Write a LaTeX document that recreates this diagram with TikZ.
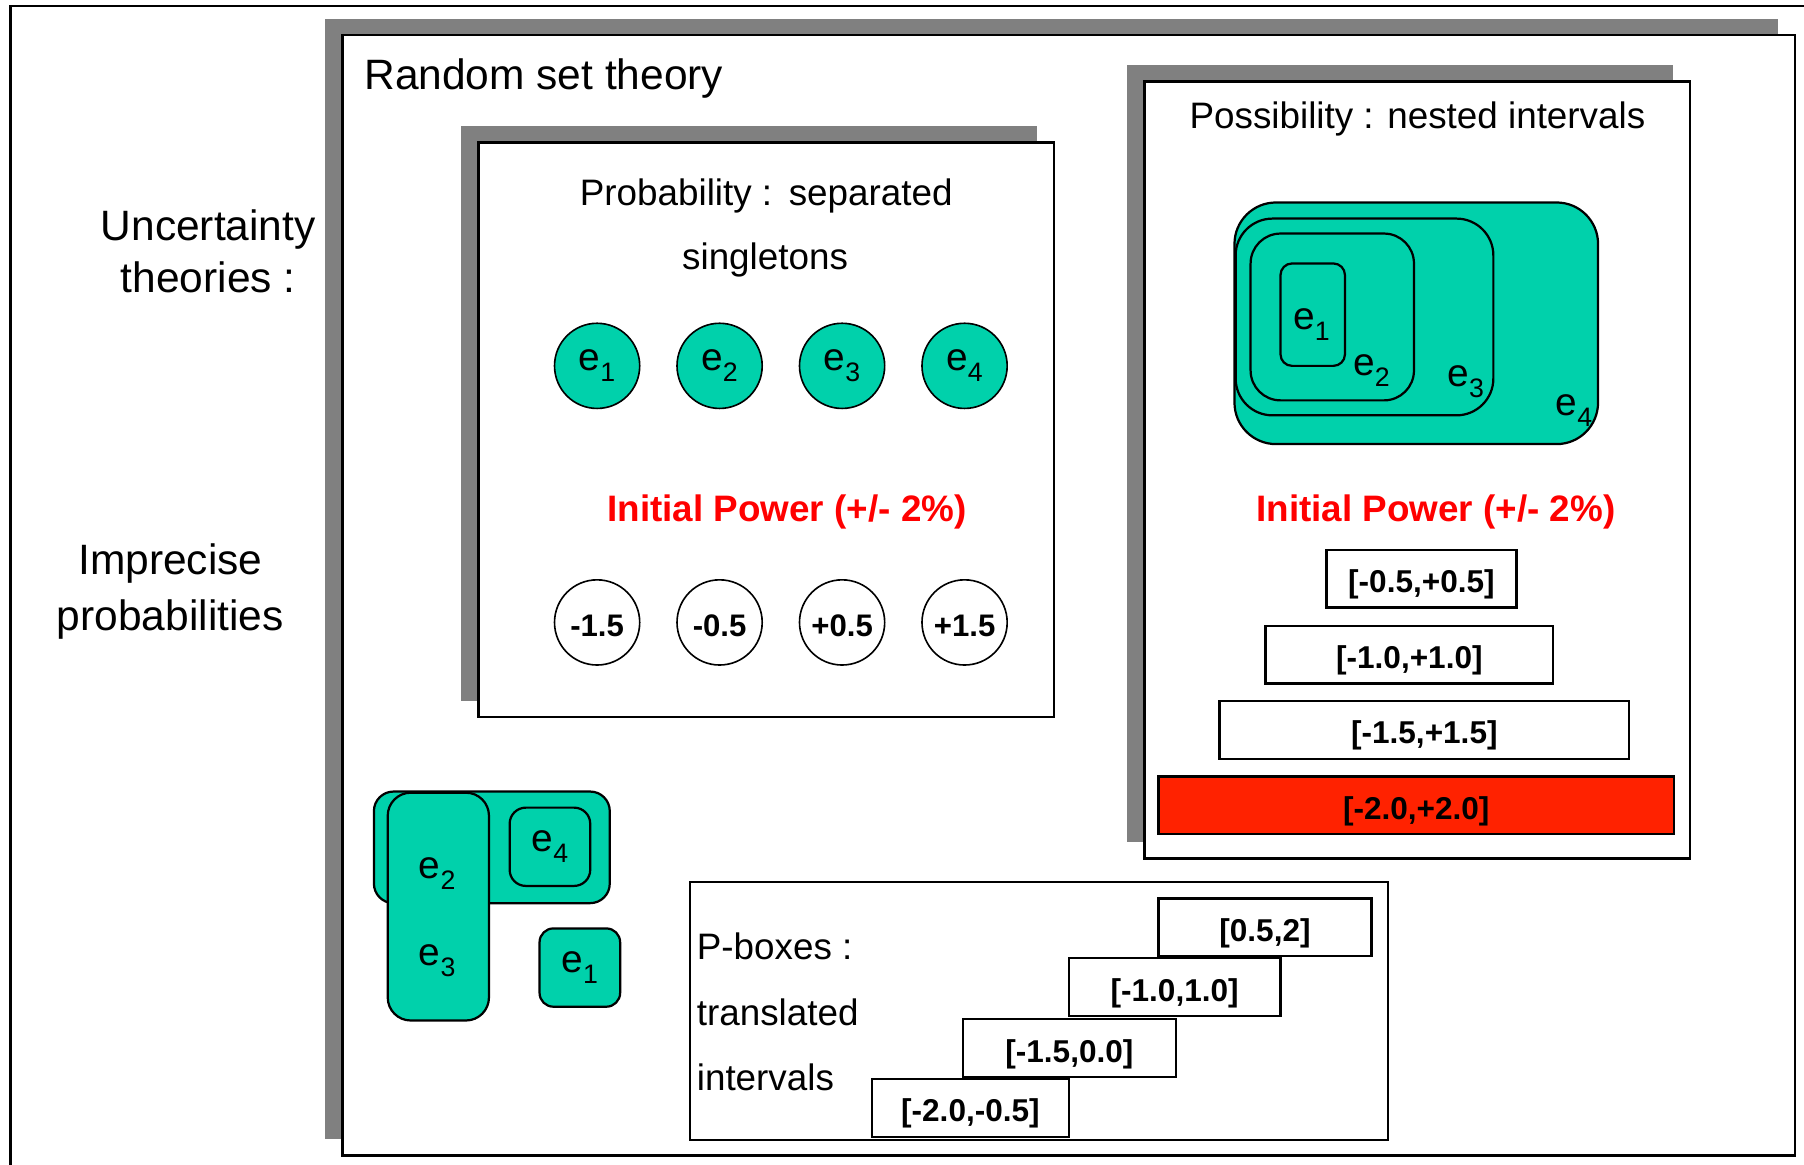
\documentclass[tikz,border=0pt]{standalone}
\usepackage{fontspec}
\setmainfont{Liberation Sans}
\usetikzlibrary{positioning, shadows}

\definecolor{singletonfill}{RGB}{0,209,171}
\definecolor{shade}{RGB}{128,128,128}
\definecolor{hotred}{RGB}{255,34,0}

\newcommand{\bigtxt}{\fontsize{10.5}{12.6}\selectfont}
\newcommand{\midtxt}{\fontsize{9.1}{11}\selectfont}
\newcommand{\etxt}{\fontsize{9.6}{11}\selectfont}
\newcommand{\ivtxt}{\fontsize{7.8}{9}\selectfont\bfseries}
\newcommand{\valtxt}{\fontsize{7.7}{9}\selectfont\bfseries}
\newcommand{\elem}[1]{e\raisebox{-0.55ex}{\fontsize{6.6}{7}\selectfont #1}}

\begin{document}
\begin{tikzpicture}[
    x=0.01cm, y=-0.01cm,
    node distance=0.31cm,
    panel/.style={rectangle, draw, fill=white, line width=0.55pt, inner sep=0pt,
      general shadow={fill=shade, shadow xshift=-0.15cm, shadow yshift=0.14cm}},
    label/.style={inner sep=0pt, anchor=base},
    singleton/.style={circle, draw, fill=singletonfill, minimum size=0.74cm, inner sep=0pt, font=\etxt},
    value/.style={circle, draw, fill=white, minimum size=0.74cm, inner sep=0pt, text height=6.9pt, text depth=0pt, font=\valtxt},
    power/.style={inner sep=0pt, anchor=base, font=\midtxt\bfseries, text=red},
    interval/.style={rectangle, draw, fill=white, line width=0.55pt, minimum height=0.5cm, inner sep=0pt, text height=6.9pt, text depth=0pt, font=\ivtxt},
    focal/.style={draw, fill=singletonfill, line width=0.55pt},
    focalbox/.style={rectangle, focal, inner sep=0pt, font=\etxt}
  ]
    \useasboundingbox (0,0) rectangle (1568,1012);
    \draw[line width=0.6pt] (9,5) rectangle (1590,1030);

    % left side
    \node[label, font=\bigtxt] (unc1) at (181,209) {Uncertainty};
    \node[label, font=\bigtxt] (unc2) at (181,254) {theories :};
    \node[label, font=\bigtxt] (imp1) at (148,499) {Imprecise};
    \node[label, font=\bigtxt] (imp2) at (148,548) {probabilities};

    % random sets
    \node[panel, minimum width=12.62cm, minimum height=9.73cm] (randset) at (929,517.5) {};
    \node[label, anchor=base west, font=\bigtxt] (randtitle) at (316,77.6) {Random set theory};

    % probability
    \node[panel, minimum width=5.00cm, minimum height=4.99cm] (prob) at (666,373.5) {};
    \node[label, font=\midtxt] (probtitle) at (666,179) {Probability :\hspace{0.45em}separated};
    \node[label, font=\midtxt] (probtitle2) at (665,234) {singletons};
    \node[singleton] (e1) at (519,318) {\elem{1}};
    \node[singleton, right=of e1] (e2) {\elem{2}};
    \node[singleton, right=of e2] (e3) {\elem{3}};
    \node[singleton, right=of e3] (e4) {\elem{4}};
    \node[power] (probpower) at (684,453.5) {Initial Power (+/- 2\%)};
    \node[value] (v1) at (519,541) {-1.5};
    \node[value, right=of v1] (v2) {-0.5};
    \node[value, right=of v2] (v3) {+0.5};
    \node[value, right=of v3] (v4) {+1.5};

    % possibility
    \node[panel, minimum width=4.74cm, minimum height=6.75cm] (poss) at (1232,408.5) {};
    \node[label, font=\midtxt] (posstitle) at (1232,111.6) {Possibility : nested intervals};
    \draw[focal, rounded corners=0.36cm] (1073,176) rectangle (1389,386);
    \draw[focal, rounded corners=0.32cm] (1074,190) rectangle (1298,361);
    \draw[focal, rounded corners=0.26cm] (1087,203) rectangle (1229,348);
    \draw[focal, rounded corners=0.1cm] (1113,229) rectangle (1169,318);
    \node[font=\etxt] (n1) at (1140,282) {\elem{1}};
    \node[font=\etxt] (n2) at (1192,322) {\elem{2}};
    \node[font=\etxt] (n3) at (1274,332) {\elem{3}};
    \node[font=\etxt] (n4) at (1368,357) {\elem{4}};
    \node[power] (posspower) at (1248,453.4) {Initial Power (+/- 2\%)};
    \node[interval, minimum width=1.65cm] (i05) at (1235.5,503) {[-0.5,+0.5]};
    \node[interval, minimum width=2.50cm] (i10) at (1225,569) {[-1.0,+1.0]};
    \node[interval, minimum width=3.56cm] (i15) at (1238,634.5) {[-1.5,+1.5]};
    \node[interval, minimum width=4.48cm, fill=hotred] (i20) at (1231,700) {[-2.0,+2.0]};

    % general random set
    \draw[focal, rounded corners=0.17cm] (325,688) rectangle (530,785);
    \draw[focal, rounded corners=0.2cm] (337,689) rectangle (425,887);
    \node[font=\etxt] (f2) at (380,759) {\elem{2}};
    \node[font=\etxt] (f3) at (380,835) {\elem{3}};
    \node[focalbox, rounded corners=0.14cm, minimum width=0.70cm, minimum height=0.68cm] (f4) at (478,736) {\elem{4}};
    \node[focalbox, rounded corners=0.12cm, minimum width=0.70cm, minimum height=0.68cm] (f1) at (504,841) {\elem{1}};

    % p-boxes
    \node[rectangle, draw, line width=0.55pt, minimum width=6.06cm, minimum height=2.24cm] (pbox) at (903,879) {};
    \node[label, anchor=base west, font=\midtxt] (pb1) at (605,834) {P-boxes :};
    \node[label, anchor=base west, font=\midtxt] (pb2) at (605,891) {translated};
    \node[label, anchor=base west, font=\midtxt] (pb3) at (605,948) {intervals};
    \node[interval, minimum width=1.85cm] (p4) at (1099.5,806) {[0.5,2]};
    \node[interval, minimum width=1.84cm] (p3) at (1021,858) {[-1.0,1.0]};
    \node[interval, minimum width=1.85cm] (p2) at (929.5,911) {[-1.5,0.0]};
    \node[interval, minimum width=1.71cm] (p1) at (843.5,963) {[-2.0,-0.5]};
  \end{tikzpicture}
\end{document}
